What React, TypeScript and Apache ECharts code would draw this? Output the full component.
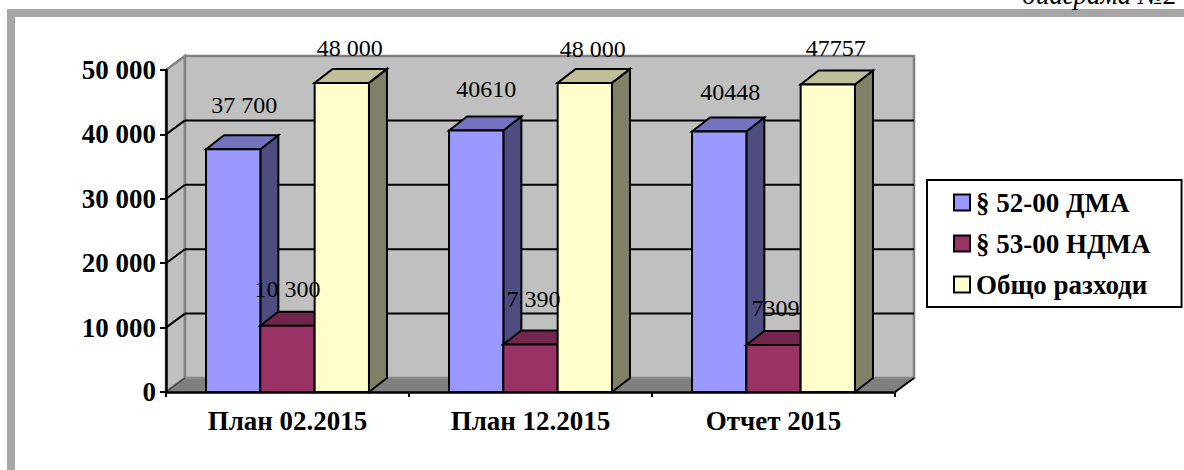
import React, { useEffect, useRef } from "react";
import * as echarts from "echarts";

const categories = ["План 02.2015", "План 12.2015", "Отчет 2015"];
const seriesNames = ["§ 52-00 ДМА", "§ 53-00 НДМА", "Общо разходи"];
const dmaValues = [37700, 40610, 40448];
const ndmaValues = [10300, 7390, 7309];
const totalValues = [48000, 48000, 47757];
const dmaLabels = ["37 700", "40610", "40448"];
const ndmaLabels = ["10 300", "7 390", "7309"];
const totalLabels = ["48 000", "48 000", "47757"];
const innerTicks = [10000, 20000, 30000, 40000];
const note = "диаграма №2";

const FRONT = ["#9999FF", "#993366", "#FFFFCC"];
const TOP = ["#7373BF", "#73264D", "#BFBF99"];
const SIDE = ["#4D4D80", "#4D1A33", "#808066"];
const DX = 18;
const DY = -14;
const SERIF = "'Liberation Serif'";

// hand-placed label nudges per series, relative to the bar's front top centre
const labelOffsets = [
  [[11, -44], [10, -41], [11, -40]],
  [[0, -37], [3, -45], [2, -37]],
  [[8, -35], [8, -34], [8, -36]],
];

function bar3d(seriesIdx: number) {
  return (_p: any, api: any) => {
    const cat = api.value(0);
    const val = api.value(1);
    const band = api.size([1, 0])[0];
    const w = band * 0.2235;
    const c = api.coord([cat, val]);
    const b = api.coord([cat, 0]);
    const x0 = c[0] + (seriesIdx - 1.5) * w;
    const x1 = x0 + w;
    const yT = c[1];
    const yB = b[1];
    const line = { stroke: "#000", lineWidth: 2, lineJoin: "miter" };
    return {
      type: "group",
      children: [
        {
          type: "polygon",
          shape: { points: [[x1, yT], [x1 + DX, yT + DY], [x1 + DX, yB + DY], [x1, yB]] },
          style: { fill: SIDE[seriesIdx], ...line },
        },
        {
          type: "polygon",
          shape: { points: [[x0, yT], [x0 + DX, yT + DY], [x1 + DX, yT + DY], [x1, yT]] },
          style: { fill: TOP[seriesIdx], ...line },
        },
        {
          type: "rect",
          shape: { x: x0, y: yT, width: w, height: yB - yT },
          style: { fill: FRONT[seriesIdx], ...line },
        },
      ],
    };
  };
}

function labelItem(seriesIdx: number, texts: string[]) {
  return (_p: any, api: any) => {
    const cat = api.value(0);
    const band = api.size([1, 0])[0];
    const w = band * 0.2235;
    const c = api.coord([cat, api.value(1)]);
    const off = labelOffsets[seriesIdx][cat];
    return {
      type: "text",
      x: c[0] + (seriesIdx - 1) * w + off[0],
      y: c[1] + off[1],
      style: {
        text: texts[cat],
        fill: "#000",
        font: `24px ${SERIF}`,
        align: "center",
        verticalAlign: "middle",
      },
    };
  };
}

function chromeItem(params: any, api: any) {
  const g = params.coordSys;
  const L = g.x;
  const R = g.x + g.width;
  const T = g.y;
  const B = g.y + g.height;
  const y = api.coord([0, api.value(1)])[1];
  const children: any[] = [];
  if (params.dataIndex === 0) {
    const edge = { stroke: "#808080", lineWidth: 2.5 };
    children.push(
      { type: "polygon", shape: { points: [[L, T], [L + DX + 1, T + DY], [L + DX + 1, B + DY], [L, B]] }, style: { fill: "#C0C0C0", ...edge } },
      { type: "rect", shape: { x: L + DX + 1, y: T + DY, width: g.width, height: g.height }, style: { fill: "#C0C0C0", ...edge } },
      { type: "polygon", shape: { points: [[L, B], [L + DX + 1, B + DY], [R + DX + 1, B + DY], [R, B]] }, style: { fill: "#808080", stroke: "#8C8C8C", lineWidth: 1.5 } },
      { type: "line", shape: { x1: R, y1: B, x2: R + DX + 1, y2: B + DY }, style: { stroke: "#000", lineWidth: 2 } },
      { type: "line", shape: { x1: L, y1: B, x2: L + DX + 1, y2: B + DY }, style: { stroke: "#404040", lineWidth: 1.5 } }
    );
  }
  children.push(
    { type: "line", shape: { x1: L, y1: y, x2: L + DX + 1, y2: y + DY }, style: { stroke: "#000", lineWidth: 2 } },
    { type: "line", shape: { x1: L + DX + 1, y1: y + DY, x2: R + DX + 1, y2: y + DY }, style: { stroke: "#000", lineWidth: 2 } }
  );
  return { type: "group", children };
}

const toPairs = (vals: number[]) => vals.map((v, i) => [i, v]);
const fmt = (v: number) => (v === 0 ? "0" : `${v / 1000} 000`);

export default function App() {
  const ref = useRef<HTMLDivElement>(null);
  useEffect(() => {
    const chart = echarts.init(ref.current!, null, { renderer: "svg", width: 1184, height: 470 });
    const valueSets = [dmaValues, ndmaValues, totalValues];
    const labelSets = [dmaLabels, ndmaLabels, totalLabels];
    chart.setOption({
      animation: false,
      backgroundColor: "#fff",
      grid: { left: 166, top: 70, width: 729, height: 322, containLabel: false },
      xAxis: {
        type: "category",
        data: categories,
        z: 5,
        axisLine: { lineStyle: { color: "#000", width: 2.5 } },
        axisTick: { show: true, alignWithLabel: false, length: 5, lineStyle: { color: "#000", width: 2 } },
        axisLabel: { color: "#000", fontFamily: SERIF, fontWeight: "bold", fontSize: 27, margin: 15 },
        splitLine: { show: false },
      },
      yAxis: {
        type: "value",
        min: 0,
        max: 50000,
        interval: 10000,
        z: 5,
        axisLine: { show: true, lineStyle: { color: "#000", width: 2.5 } },
        axisTick: { show: true, length: 6, lineStyle: { color: "#000", width: 2 } },
        axisLabel: { color: "#000", fontFamily: SERIF, fontWeight: "bold", fontSize: 27, margin: 10, formatter: fmt },
        splitLine: { show: false },
      },
      legend: {
        orient: "vertical",
        left: 927,
        top: 180,
        data: seriesNames,
        icon: "rect",
        itemWidth: 16,
        itemHeight: 16,
        itemGap: 14,
        padding: [9, 31, 9, 26],
        backgroundColor: "#fff",
        borderColor: "#000",
        borderWidth: 2,
        z: 20,
        itemStyle: { borderColor: "#000", borderWidth: 2 },
        textStyle: { color: "#000", fontFamily: SERIF, fontWeight: "bold", fontSize: 27, padding: [0, 0, 0, 1] },
      },
      graphic: [
        { type: "rect", z: -1, shape: { x: 7, y: 9, width: 1177, height: 8 }, style: { fill: "#A6A6A6" } },
        { type: "rect", z: -1, shape: { x: 7, y: 9, width: 8, height: 461 }, style: { fill: "#A6A6A6" } },
        {
          type: "text",
          x: 1177,
          y: 8,
          style: { text: note, fill: "#000", font: `italic 27px ${SERIF}`, align: "right", verticalAlign: "bottom" },
        },
      ],
      series: [
        { type: "custom", name: "walls", z: 1, silent: true, data: toPairs(innerTicks).map((d) => [0, d[1]]), renderItem: chromeItem },
        ...seriesNames.map((name, i) => ({
          type: "custom",
          name,
          z: 2 + i,
          itemStyle: { color: FRONT[i], borderColor: "#000", borderWidth: 2 },
          data: toPairs(valueSets[i]),
          renderItem: bar3d(i),
        })),
        ...seriesNames.map((name, i) => ({
          type: "custom",
          name: `${name} labels`,
          z: 10,
          data: toPairs(valueSets[i]),
          renderItem: labelItem(i, labelSets[i]),
        })),
      ],
    });
    return () => chart.dispose();
  }, []);
  return <div ref={ref} style={{ position: "fixed", left: 0, top: 0, width: 1184, height: 470 }} />;
}
